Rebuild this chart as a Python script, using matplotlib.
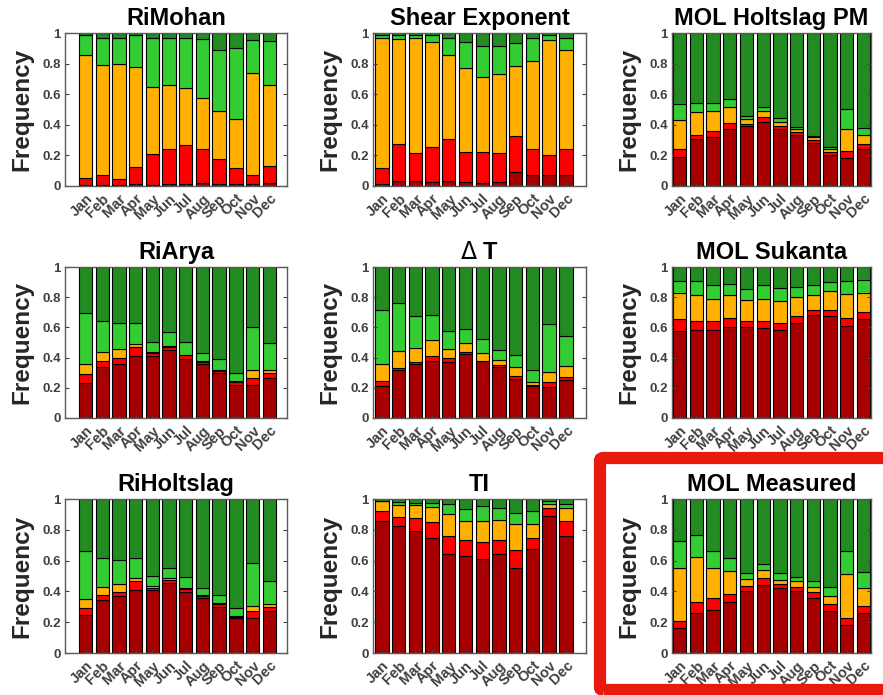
import matplotlib
matplotlib.use("Agg")
import matplotlib.pyplot as plt
from matplotlib.patches import FancyBboxPatch
import numpy as np

plt.rcParams['font.family'] = ['Liberation Sans', 'DejaVu Sans']

months = ['Jan', 'Feb', 'Mar', 'Apr', 'May', 'Jun', 'Jul', 'Aug', 'Sep', 'Oct', 'Nov', 'Dec']
# stack colours, bottom to top
colors = ['#A80000', '#FF0000', '#FFB000', '#33CC33', '#228B22']

# cumulative tops of the first four classes (the last class fills up to 1)
ri_mohan = [
    [0.005, 0.005, 0.005, 0.01, 0.005, 0.01, 0.015, 0.02, 0.015, 0.015, 0.01, 0.02],
    [0.055, 0.075, 0.045, 0.125, 0.21, 0.24, 0.27, 0.24, 0.175, 0.115, 0.07, 0.13],
    [0.855, 0.79, 0.80, 0.78, 0.645, 0.66, 0.64, 0.575, 0.49, 0.44, 0.74, 0.66],
    [0.99, 0.97, 0.97, 0.99, 0.97, 0.97, 0.97, 0.96, 0.89, 0.90, 0.955, 0.95],
]
shear_exponent = [
    [0.015, 0.035, 0.03, 0.025, 0.03, 0.025, 0.02, 0.025, 0.09, 0.07, 0.07, 0.075],
    [0.12, 0.275, 0.215, 0.255, 0.305, 0.22, 0.22, 0.215, 0.33, 0.245, 0.205, 0.245],
    [0.97, 0.96, 0.97, 0.94, 0.855, 0.77, 0.715, 0.735, 0.785, 0.815, 0.955, 0.89],
    [0.985, 0.99, 0.99, 0.985, 0.97, 0.94, 0.915, 0.915, 0.935, 0.965, 0.99, 0.965],
]
mol_holtslag_pm = [
    [0.19, 0.305, 0.32, 0.37, 0.39, 0.42, 0.375, 0.335, 0.28, 0.205, 0.18, 0.245],
    [0.24, 0.335, 0.36, 0.415, 0.405, 0.45, 0.395, 0.355, 0.30, 0.225, 0.23, 0.275],
    [0.43, 0.485, 0.49, 0.515, 0.435, 0.49, 0.42, 0.375, 0.32, 0.24, 0.375, 0.335],
    [0.535, 0.545, 0.545, 0.57, 0.46, 0.515, 0.445, 0.385, 0.33, 0.255, 0.505, 0.38],
]
ri_arya = [
    [0.235, 0.335, 0.355, 0.41, 0.41, 0.45, 0.39, 0.355, 0.30, 0.22, 0.22, 0.265],
    [0.29, 0.375, 0.40, 0.47, 0.43, 0.47, 0.415, 0.37, 0.31, 0.24, 0.265, 0.295],
    [0.36, 0.435, 0.46, 0.49, 0.435, 0.48, 0.42, 0.38, 0.315, 0.245, 0.315, 0.32],
    [0.695, 0.645, 0.63, 0.63, 0.505, 0.57, 0.505, 0.43, 0.39, 0.30, 0.605, 0.50],
]
delta_t = [
    [0.21, 0.315, 0.36, 0.38, 0.37, 0.425, 0.375, 0.34, 0.26, 0.21, 0.205, 0.25],
    [0.245, 0.33, 0.37, 0.41, 0.395, 0.44, 0.38, 0.35, 0.275, 0.22, 0.24, 0.27],
    [0.36, 0.445, 0.465, 0.515, 0.455, 0.50, 0.43, 0.385, 0.335, 0.24, 0.305, 0.345],
    [0.715, 0.76, 0.675, 0.685, 0.575, 0.59, 0.52, 0.45, 0.42, 0.315, 0.62, 0.545],
]
mol_sukanta = [
    [0.575, 0.585, 0.58, 0.605, 0.605, 0.595, 0.585, 0.63, 0.685, 0.675, 0.61, 0.655],
    [0.655, 0.645, 0.64, 0.66, 0.645, 0.64, 0.63, 0.675, 0.715, 0.715, 0.665, 0.70],
    [0.825, 0.815, 0.79, 0.815, 0.78, 0.79, 0.775, 0.80, 0.815, 0.84, 0.82, 0.83],
    [0.905, 0.905, 0.88, 0.885, 0.855, 0.88, 0.86, 0.865, 0.88, 0.90, 0.905, 0.915],
]
ri_holtslag = [
    [0.245, 0.345, 0.37, 0.41, 0.41, 0.455, 0.395, 0.355, 0.30, 0.23, 0.23, 0.27],
    [0.295, 0.375, 0.395, 0.47, 0.425, 0.475, 0.415, 0.37, 0.315, 0.235, 0.275, 0.30],
    [0.35, 0.43, 0.45, 0.49, 0.435, 0.49, 0.42, 0.375, 0.325, 0.24, 0.305, 0.32],
    [0.66, 0.62, 0.605, 0.615, 0.50, 0.555, 0.495, 0.42, 0.375, 0.29, 0.585, 0.465],
]
ti = [
    [0.855, 0.825, 0.79, 0.745, 0.645, 0.63, 0.61, 0.645, 0.555, 0.675, 0.89, 0.76],
    [0.925, 0.885, 0.875, 0.85, 0.76, 0.735, 0.72, 0.735, 0.67, 0.745, 0.94, 0.855],
    [0.985, 0.96, 0.96, 0.95, 0.90, 0.86, 0.86, 0.865, 0.835, 0.835, 0.97, 0.94],
    [0.99, 0.98, 0.975, 0.975, 0.965, 0.935, 0.955, 0.94, 0.91, 0.925, 0.985, 0.97],
]
mol_measured = [
    [0.165, 0.26, 0.28, 0.33, 0.405, 0.44, 0.425, 0.40, 0.36, 0.275, 0.185, 0.26],
    [0.205, 0.33, 0.36, 0.385, 0.435, 0.49, 0.445, 0.43, 0.395, 0.315, 0.225, 0.305],
    [0.555, 0.625, 0.55, 0.53, 0.48, 0.54, 0.475, 0.465, 0.43, 0.37, 0.51, 0.42],
    [0.73, 0.765, 0.665, 0.615, 0.52, 0.58, 0.52, 0.495, 0.47, 0.43, 0.66, 0.525],
]

titles = ['RiMohan', 'Shear Exponent', 'MOL Holtslag PM',
          'RiArya', r'$\Delta$ T', 'MOL Sukanta',
          'RiHoltslag', 'TI', 'MOL Measured']
panels = [ri_mohan, shear_exponent, mol_holtslag_pm,
          ri_arya, delta_t, mol_sukanta,
          ri_holtslag, ti, mol_measured]

W, H = 883, 695
fig = plt.figure(figsize=(W / 100, H / 100), dpi=100)

# axes boxes in pixels
col_x = [(65, 287), (373, 586), (672, 871)]
row_y = [(33, 186), (267, 418), (499, 653)]
col_xlim = [(-0.23, 13.06), (0.47, 13.2), (0.54, 12.45)]

x = np.arange(1, 13)
for i, (name, tops) in enumerate(zip(titles, panels)):
    r, c = divmod(i, 3)
    x0, x1 = col_x[c]
    y0, y1 = row_y[r]
    ax = fig.add_axes([x0 / W, 1 - y1 / H, (x1 - x0) / W, (y1 - y0) / H])
    bounds = np.vstack([np.zeros(12), np.array(tops), np.ones(12)])
    heights = np.diff(bounds, axis=0)
    for k in range(5):
        ax.bar(x, heights[k], 0.8, bottom=bounds[k], color=colors[k],
               edgecolor='black', linewidth=0.8)
    ax.set_xlim(*col_xlim[c])
    ax.set_ylim(0, 1)
    ax.set_yticks([0, 0.2, 0.4, 0.6, 0.8, 1])
    ax.set_yticklabels(['0', '0.2', '0.4', '0.6', '0.8', '1'])
    ax.set_xticks(x)
    ax.set_xticklabels(months, rotation=45, ha='right', rotation_mode='anchor')
    ax.tick_params(direction='in', length=3, width=0.8, colors='#404040',
                   labelsize=9.5, right=True, top=False, pad=3)
    ax.tick_params(axis='x', labelsize=10.5, pad=4)
    for lab in ax.get_xticklabels() + ax.get_yticklabels():
        lab.set_fontweight('bold')
    for sp in ax.spines.values():
        sp.set_color('#5a5a5a')
        sp.set_linewidth(1.0)
    ax.set_title(name, fontsize=17, fontweight='bold', pad=6)
    ax.set_ylabel('Frequency', fontsize=17.5, fontweight='bold', color='#262626')
    ax.yaxis.set_label_coords(-32 / (x1 - x0), 0.5)

# red frame around the last panel
frame = FancyBboxPatch((600 / W, 1 - 690 / H), 300 / W, 232 / H,
                       boxstyle='round,pad=0,rounding_size=0.004',
                       transform=fig.transFigure, fill=False,
                       edgecolor='#E8190D', linewidth=8.8, clip_on=False)
fig.patches.append(frame)

fig.savefig('out.png', dpi=100)
